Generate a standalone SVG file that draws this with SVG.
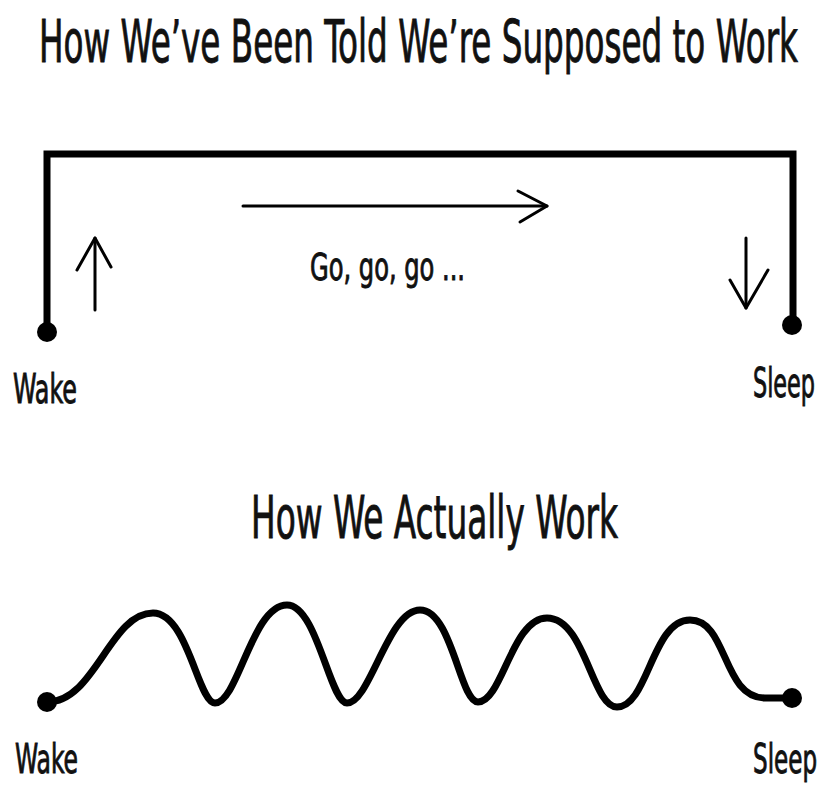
<svg xmlns="http://www.w3.org/2000/svg" width="822" height="790" viewBox="0 0 822 790">
  <style>
    .t { font-family: "DejaVu Sans Condensed", "Liberation Sans Narrow", "Liberation Sans", sans-serif; fill: #111; stroke: #111; stroke-width: 0.9; }
    .thick { fill: none; stroke: #000; stroke-width: 7; stroke-linejoin: miter; }
    .wave { fill: none; stroke: #000; stroke-width: 7; stroke-linecap: round; stroke-linejoin: round; }
    .thin { fill: none; stroke: #000; stroke-width: 3; stroke-linecap: round; stroke-linejoin: round; }
    .dot { fill: #000; }
  </style>
  <rect width="822" height="790" fill="#fff"/>

  <g id="title-top">
    <text class="t" x="39" y="62" font-size="58" textLength="759" lengthAdjust="spacingAndGlyphs">How We’ve Been Told We’re Supposed to Work</text>
  </g>

  <g id="connectors">
    <path id="bracket" class="thick" d="M47 332 V154 H793 V325"/>
    <g id="arrow-up" class="thin">
      <path d="M95 310 V238"/>
      <path d="M77 270 L95 238 L111 267"/>
    </g>
    <g id="arrow-right" class="thin">
      <path d="M243 206 H547"/>
      <path d="M518 191 L547 206 L520 222"/>
    </g>
    <g id="arrow-down" class="thin">
      <path d="M746 238 V308"/>
      <path d="M730 280 L746 308 L768 270"/>
    </g>
    <path id="wave" class="wave" d="M47 702 C 95 702, 110 613, 153 613 C 188 613, 198 703, 215 703 C 238 703, 252 605, 287 605 C 317 605, 330 703, 347 703 C 370 703, 388 610, 420 610 C 452 610, 460 702, 478 702 C 502 702, 512 618, 547 618 C 585 618, 592 707, 617 707 C 648 707, 652 620, 690 620 C 728 620, 722 698, 765 698 L792 698"/>
  </g>

  <g id="wake-top">
    <circle class="dot" cx="47" cy="332" r="10"/>
    <text class="t" x="13" y="403" font-size="40" textLength="64" lengthAdjust="spacingAndGlyphs">Wake</text>
  </g>
  <g id="sleep-top">
    <circle class="dot" cx="792" cy="325" r="10"/>
    <text class="t" x="753" y="397" font-size="40" textLength="62" lengthAdjust="spacingAndGlyphs">Sleep</text>
  </g>
  <g id="go-label">
    <text class="t" x="310" y="280" font-size="38" textLength="155" lengthAdjust="spacingAndGlyphs">Go, go, go ...</text>
  </g>

  <g id="title-bottom">
    <text class="t" x="251" y="538" font-size="58" textLength="367" lengthAdjust="spacingAndGlyphs">How We Actually Work</text>
  </g>

  <g id="wake-bottom">
    <circle class="dot" cx="47" cy="702" r="10"/>
    <text class="t" x="15" y="773" font-size="40" textLength="63" lengthAdjust="spacingAndGlyphs">Wake</text>
  </g>
  <g id="sleep-bottom">
    <circle class="dot" cx="792" cy="698" r="10"/>
    <text class="t" x="753" y="773" font-size="40" textLength="64" lengthAdjust="spacingAndGlyphs">Sleep</text>
  </g>
</svg>
